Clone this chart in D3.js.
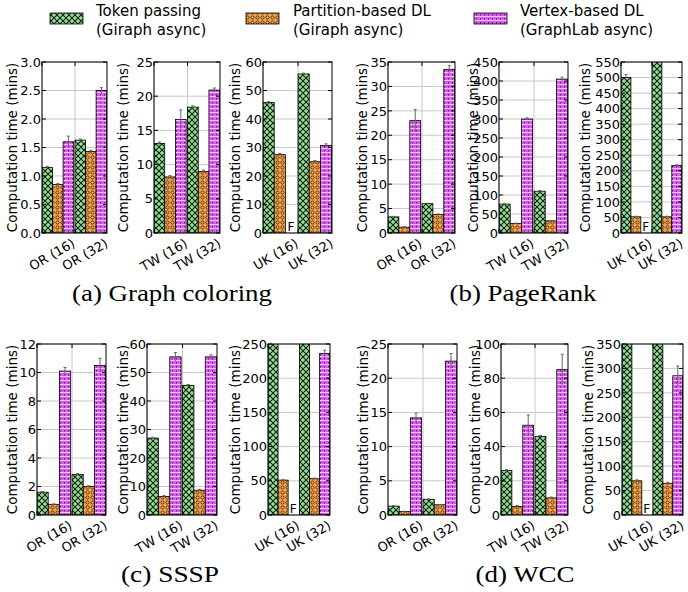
<!DOCTYPE html>
<html>
<head>
<meta charset="utf-8">
<script src="https://cdn.jsdelivr.net/npm/d3@7"></script>
<style>
  body { margin: 0; background: #fff; }
  svg { display: block; }
  .caption { font-family: "Liberation Serif", "Times New Roman", serif; font-size: 23px; }
</style>
</head>
<body>
<div id="chart"></div>
<script>
// Computation time per system, 4 algorithms x 3 graphs, two worker counts each.
// Each panel array is [series][group]; null = failed run (drawn as "F").

const seriesNames = [
  ["Token passing", "(Giraph async)"],
  ["Partition-based DL", "(Giraph async)"],
  ["Vertex-based DL", "(GraphLab async)"]
];
const captions = ["(a) Graph coloring", "(b) PageRank", "(c) SSSP", "(d) WCC"];
const graphNames = ["OR", "TW", "UK"];
const machineCounts = ["(16)", "(32)"];
const yLabel = "Computation time (mins)";

// graph coloring
const coloringOR = [[1.15, 1.63], [0.85, 1.43], [1.60, 2.50]];
const coloringORErr = [[0.02, 0.02], [0.02, 0.02], [0.10, 0.05]];
const coloringTW = [[13.1, 18.4], [8.2, 9.0], [16.6, 20.9]];
const coloringTWErr = [[0.2, 0.2], [0.2, 0.2], [1.4, 0.3]];
const coloringUK = [[45.8, 55.8], [27.5, 25.0], [null, 30.7]];
const coloringUKErr = [[0.3, 0.3], [0.4, 0.4], [0, 0.6]];

// pagerank
const pagerankOR = [[3.3, 6.0], [1.2, 3.8], [23.0, 33.5]];
const pagerankORErr = [[0.1, 0.1], [0.1, 0.1], [2.3, 0.8]];
const pagerankTW = [[76, 110], [25, 32], [300, 405]];
const pagerankTWErr = [[2, 2], [1, 1], [3, 5]];
const pagerankUK = [[500, 560], [52, 52], [null, 217]];
const pagerankUKErr = [[10, 0], [2, 2], [0, 2]];

// sssp
const ssspOR = [[1.6, 2.85], [0.75, 2.0], [10.1, 10.5]];
const ssspORErr = [[0.05, 0.05], [0.03, 0.05], [0.25, 0.5]];
const ssspTW = [[27, 45.5], [6.5, 8.7], [55.5, 55.5]];
const ssspTWErr = [[0.3, 0.3], [0.3, 0.3], [1.5, 0.7]];
const ssspUK = [[270, 270], [51, 53], [null, 236]];
const ssspUKErr = [[0, 0], [1, 1], [0, 5]];

// wcc
const wccOR = [[1.3, 2.3], [0.5, 1.5], [14.2, 22.5]];
const wccORErr = [[0.05, 0.05], [0.05, 0.05], [0.7, 1.1]];
const wccTW = [[26, 46], [5, 10], [52.5, 85]];
const wccTWErr = [[0.5, 0.5], [0.5, 0.5], [6, 9]];
const wccUK = [[380, 380], [70, 65], [null, 285]];
const wccUKErr = [[0, 0], [2, 2], [0, 20]];

// y tick values per panel
const ticksColoring = [d3.range(0, 3.01, 0.5), d3.range(0, 26, 5), d3.range(0, 61, 10)];
const ticksPagerank = [d3.range(0, 36, 5), d3.range(0, 451, 50), d3.range(0, 551, 50)];
const ticksSssp = [d3.range(0, 13, 2), d3.range(0, 61, 10), d3.range(0, 251, 50)];
const ticksWcc = [d3.range(0, 26, 5), d3.range(0, 101, 20), d3.range(0, 351, 50)];

const W = 688, H = 592;
const svg = d3.select("#chart").append("svg")
  .attr("width", W).attr("height", H)
  .style("font-family", "'DejaVu Sans', sans-serif");

// hatch patterns
const defs = svg.append("defs");
const pGreen = defs.append("pattern").attr("id", "hatch0")
  .attr("patternUnits", "userSpaceOnUse").attr("width", 6).attr("height", 6);
pGreen.append("rect").attr("width", 6).attr("height", 6).attr("fill", "#90e38f");
pGreen.append("path").attr("d", "M0,0L6,6M6,0L0,6")
  .attr("stroke", "#1c1c1c").attr("stroke-width", 1.1);

const pOrange = defs.append("pattern").attr("id", "hatch1")
  .attr("patternUnits", "userSpaceOnUse").attr("width", 5).attr("height", 5);
pOrange.append("rect").attr("width", 5).attr("height", 5).attr("fill", "#f6a24c");
pOrange.append("circle").attr("cx", 2.5).attr("cy", 2.5).attr("r", 1.6)
  .attr("fill", "none").attr("stroke", "#3b2a12").attr("stroke-width", 0.8);

const pPurple = defs.append("pattern").attr("id", "hatch2")
  .attr("patternUnits", "userSpaceOnUse").attr("width", 4).attr("height", 4);
pPurple.append("rect").attr("width", 4).attr("height", 4).attr("fill", "#d95ded");
pPurple.append("rect").attr("x", 0).attr("y", 0).attr("width", 4).attr("height", 1).attr("fill", "#f6c6fb");
pPurple.append("rect").attr("x", 0).attr("y", 2).attr("width", 0.8).attr("height", 1.5).attr("fill", "#4a1652");

// legend
const legendPos = [{ px: 50, tx: 96 }, { px: 246, tx: 293 }, { px: 474, tx: 520 }];
seriesNames.forEach((lines, i) => {
  const g = svg.append("g");
  g.append("rect")
    .attr("x", legendPos[i].px).attr("y", 13)
    .attr("width", 33).attr("height", 11)
    .attr("fill", `url(#hatch${i})`)
    .attr("stroke", "#000").attr("stroke-width", 0.8);
  lines.forEach((t, k) => {
    g.append("text")
      .attr("x", legendPos[i].tx).attr("y", 16 + k * 19)
      .style("font-size", "15px")
      .text(t);
  });
});

// panel frames
const rows = [{ top: 62, bottom: 233 }, { top: 344, bottom: 515 }];
const panels = [
  { row: 0, left: 42, right: 107, lab: 25, v: coloringOR, e: coloringORErr, ticks: ticksColoring[0], g: 0, fmt: ".1f" },
  { row: 0, left: 154, right: 220, lab: 26, v: coloringTW, e: coloringTWErr, ticks: ticksColoring[1], g: 1 },
  { row: 0, left: 263, right: 332, lab: 23, v: coloringUK, e: coloringUKErr, ticks: ticksColoring[2], g: 2 },
  { row: 0, left: 388, right: 455, lab: 21, v: pagerankOR, e: pagerankORErr, ticks: ticksPagerank[0], g: 0 },
  { row: 0, left: 499, right: 568, lab: 21, v: pagerankTW, e: pagerankTWErr, ticks: ticksPagerank[1], g: 1 },
  { row: 0, left: 621, right: 682, lab: 31, v: pagerankUK, e: pagerankUKErr, ticks: ticksPagerank[2], g: 2 },
  { row: 1, left: 37, right: 106, lab: 20, v: ssspOR, e: ssspORErr, ticks: ticksSssp[0], g: 0 },
  { row: 1, left: 147, right: 217, lab: 19, v: ssspTW, e: ssspTWErr, ticks: ticksSssp[1], g: 1 },
  { row: 1, left: 268, right: 330, lab: 28, v: ssspUK, e: ssspUKErr, ticks: ticksSssp[2], g: 2 },
  { row: 1, left: 388, right: 457, lab: 20, v: wccOR, e: wccORErr, ticks: ticksWcc[0], g: 0 },
  { row: 1, left: 501, right: 568, lab: 21, v: wccTW, e: wccTWErr, ticks: ticksWcc[1], g: 1 },
  { row: 1, left: 622, right: 683, lab: 29, v: wccUK, e: wccUKErr, ticks: ticksWcc[2], g: 2 }
];

const barW = 0.32;

panels.forEach((p, pi) => {
  const top = rows[p.row].top, bottom = rows[p.row].bottom;
  const x = d3.scaleLinear().domain([0, 1.97]).range([p.left, p.right]);
  const y = d3.scaleLinear().domain([0, d3.max(p.ticks)]).range([bottom, top]);
  const g = svg.append("g");
  const fmt = d3.format(p.fmt || "d");

  const clipId = "clip" + pi;
  defs.append("clipPath").attr("id", clipId)
    .append("rect").attr("x", p.left).attr("y", top)
    .attr("width", p.right - p.left).attr("height", bottom - top);

  // grid
  g.append("g").selectAll("line").data(p.ticks).join("line")
    .attr("x1", p.left).attr("x2", p.right)
    .attr("y1", d => y(d)).attr("y2", d => y(d))
    .attr("stroke", "#c8c8c8").attr("stroke-width", 1);
  g.append("g").selectAll("line").data([0, 1]).join("line")
    .attr("x1", d => x(d)).attr("x2", d => x(d))
    .attr("y1", top).attr("y2", bottom)
    .attr("stroke", "#c8c8c8").attr("stroke-width", 1);

  // bars
  const bars = [];
  p.v.forEach((vals, s) => vals.forEach((v, gi) => {
    bars.push({ s, gi, v, e: p.e[s][gi] });
  }));
  const bg = g.append("g").attr("clip-path", `url(#${clipId})`);
  bg.selectAll("rect").data(bars.filter(d => d.v !== null)).join("rect")
    .attr("x", d => x(d.gi + d.s * barW))
    .attr("width", d => x(barW) - x(0))
    .attr("y", d => y(d.v))
    .attr("height", d => y(0) - y(d.v))
    .attr("fill", d => `url(#hatch${d.s})`)
    .attr("stroke", "#000").attr("stroke-width", 0.8);

  // error bars
  const eb = bg.selectAll("g.err").data(bars.filter(d => d.v !== null && d.e > 0)).join("g");
  eb.append("line")
    .attr("x1", d => x(d.gi + (d.s + 0.5) * barW)).attr("x2", d => x(d.gi + (d.s + 0.5) * barW))
    .attr("y1", d => y(d.v - d.e)).attr("y2", d => y(d.v + d.e))
    .attr("stroke", "#666").attr("stroke-width", 1);
  eb.append("line")
    .attr("x1", d => x(d.gi + (d.s + 0.5) * barW) - 1.5).attr("x2", d => x(d.gi + (d.s + 0.5) * barW) + 1.5)
    .attr("y1", d => y(d.v + d.e)).attr("y2", d => y(d.v + d.e))
    .attr("stroke", "#666").attr("stroke-width", 1);

  // failed runs
  g.selectAll("text.fail").data(bars.filter(d => d.v === null)).join("text")
    .attr("x", d => x(d.gi + (d.s + 0.5) * barW))
    .attr("y", bottom - 2)
    .attr("text-anchor", "middle")
    .style("font-size", "12px")
    .text("F");

  // frame
  g.append("rect")
    .attr("x", p.left).attr("y", top)
    .attr("width", p.right - p.left).attr("height", bottom - top)
    .attr("fill", "none").attr("stroke", "#000").attr("stroke-width", 1);

  // ticks (inward)
  g.append("g").selectAll("path").data(p.ticks).join("path")
    .attr("d", d => `M${p.left},${y(d)}h4M${p.right},${y(d)}h-4`)
    .attr("stroke", "#000").attr("stroke-width", 1);
  g.append("g").selectAll("path").data([0, 1]).join("path")
    .attr("d", d => `M${x(d)},${bottom}v-4M${x(d)},${top}v4`)
    .attr("stroke", "#000").attr("stroke-width", 1);

  g.append("g").selectAll("text").data(p.ticks).join("text")
    .attr("x", p.left - 1).attr("y", d => y(d))
    .attr("dy", "0.36em")
    .attr("text-anchor", "end")
    .style("font-size", "13px")
    .text(d => fmt(d));

  // x tick labels
  machineCounts.forEach((m, gi) => {
    const ax = x(gi + 1) + 1, ay = bottom + 13;
    g.append("text")
      .attr("transform", `translate(${ax},${ay}) rotate(-30)`)
      .attr("text-anchor", "end")
      .style("font-size", "13px")
      .text(`${graphNames[p.g]} ${m}`);
  });

  // y label
  g.append("text")
    .attr("transform", `translate(${p.left - p.lab},${(top + bottom) / 2}) rotate(-90)`)
    .attr("text-anchor", "middle")
    .style("font-size", "13.5px")
    .text(yLabel);
});

// sub-captions
const capPos = [
  { x: 172, y: 301, w: 200 }, { x: 523, y: 301, w: 147 },
  { x: 170, y: 582, w: 98 }, { x: 525, y: 582, w: 99 }
];
captions.forEach((c, i) => {
  svg.append("text")
    .attr("class", "caption")
    .attr("x", capPos[i].x - capPos[i].w / 2).attr("y", capPos[i].y)
    .attr("textLength", capPos[i].w)
    .attr("lengthAdjust", "spacingAndGlyphs")
    .text(c);
});
</script>
</body>
</html>
